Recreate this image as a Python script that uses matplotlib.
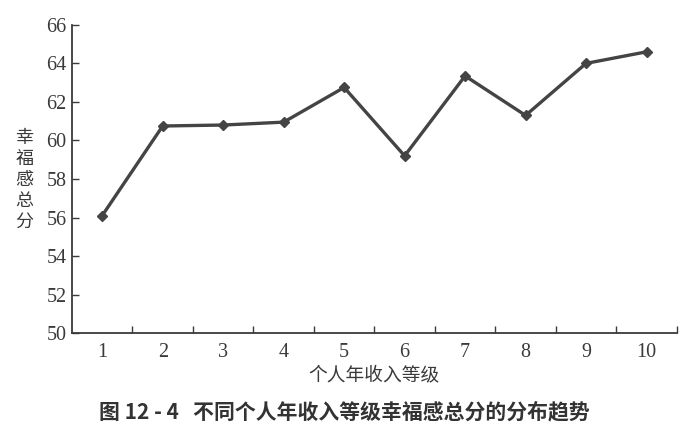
#Line chart: happiness total score by personal annual income level

import matplotlib.pyplot as plt
import numpy as np

levels = [1, 2, 3, 4, 5, 6, 7, 8, 9, 10]
scores = [56.1, 60.75, 60.8, 60.95, 62.75, 59.2, 63.35, 61.3, 64.0, 64.6]
y_ticks = [50, 52, 54, 56, 58, 60, 62, 64, 66]

x_label = "个人年收入等级"
y_label = "幸\n福\n感\n总\n分"
caption = "图 12 - 4   不同个人年收入等级幸福感总分的分布趋势"

if __name__ == "__main__":

    plt.rcParams['font.family'] = ['Liberation Serif', 'Noto Sans CJK SC']
    ink = "#3a3a3a"

    fig = plt.figure(figsize=(6.92, 4.36), dpi=100)
    ax = fig.add_axes([0.104, 0.236, 0.874, 0.707])

    ax.plot(levels, scores, color="#444444", linewidth=2.4,
            marker="D", markersize=5.5)

    ax.set_xlim(0.5, 10.5)
    ax.set_ylim(50, 66)
    ax.set_yticks(y_ticks)
    ax.set_xticks(levels)
    ax.set_xticks(np.arange(1.5, 10.6, 1.0), minor=True)
    ax.tick_params(axis="x", which="major", length=0, pad=7,
                   labelsize=14.5, labelcolor=ink)
    ax.tick_params(axis="x", which="minor", direction="in", length=5,
                   width=1, color=ink)
    ax.tick_params(axis="y", direction="in", length=5, width=1, color=ink,
                   labelsize=14.5, labelcolor=ink, pad=4)

    for side in ["top", "right"]:
        ax.spines[side].set_visible(False)
    for side in ["left", "bottom"]:
        ax.spines[side].set_color(ink)
        ax.spines[side].set_linewidth(1.3)

    ax.set_xlabel(x_label, fontsize=13.5, color=ink,
                  family=['Noto Sans CJK SC'], labelpad=2)
    fig.text(0.035, 0.587, y_label, fontsize=13, color=ink,
             family=['Noto Sans CJK SC'], ha="center", va="center",
             linespacing=1.2)
    fig.text(0.498, 0.055, caption, fontsize=15, color="#333333",
             family=['Noto Sans CJK SC'], weight="bold",
             ha="center", va="center")

    fig.savefig("out.png", dpi=100)
